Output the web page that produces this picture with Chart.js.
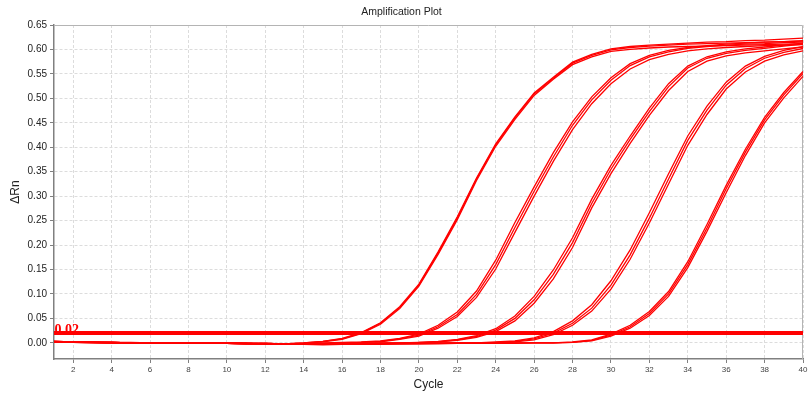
<!DOCTYPE html>
<html lang="en">
  <head>
    <meta charset="UTF-8" />
    <title>Amplification Plot</title>
    <script src="https://cdn.jsdelivr.net/npm/chart.js"></script>
    <style>
      body { margin: 0; background: #fff; }
      #plot { display: block; }
    </style>
  </head>
  <body>
    <canvas id="plot" width="812" height="397"></canvas>
    <script>
      // cycles and tick labels
      const cycles = [1, 2, 3, 4, 5, 6, 7, 8, 9, 10, 11, 12, 13, 14, 15, 16, 17, 18, 19, 20,
        21, 22, 23, 24, 25, 26, 27, 28, 29, 30, 31, 32, 33, 34, 35, 36, 37, 38, 39, 40];
      const xTicks = [2, 4, 6, 8, 10, 12, 14, 16, 18, 20, 22, 24, 26, 28, 30, 32, 34, 36, 38, 40];
      const yTicks = [0, 0.05, 0.1, 0.15, 0.2, 0.25, 0.3, 0.35, 0.4, 0.45, 0.5, 0.55, 0.6, 0.65];
      const threshold = 0.02;

      // delta Rn per well (3 replicates x 5 dilutions)
      const g1a = [0.003, 0.002, 0.002, 0.001, 0.000, 0.000, 0.000, 0.000, 0.000, -0.001, -0.001, -0.002, -0.002, 0.000, 0.003,
        0.009, 0.021, 0.041, 0.074, 0.120, 0.186, 0.258, 0.337, 0.407, 0.462, 0.511, 0.543, 0.574, 0.590, 0.601,
        0.606, 0.609, 0.611, 0.613, 0.615, 0.616, 0.618, 0.619, 0.621, 0.623];
      const g1b = [0.003, 0.002, 0.001, 0.001, 0.000, 0.000, 0.000, 0.000, 0.000, 0.000, -0.001, -0.001, -0.002, 0.000, 0.003,
        0.008, 0.020, 0.040, 0.072, 0.118, 0.184, 0.255, 0.335, 0.405, 0.460, 0.509, 0.541, 0.572, 0.588, 0.599,
        0.604, 0.607, 0.609, 0.611, 0.612, 0.613, 0.614, 0.615, 0.616, 0.617];
      const g1c = [0.002, 0.002, 0.001, 0.001, 0.000, 0.000, -0.001, -0.001, -0.001, -0.001, -0.002, -0.002, -0.002, -0.001, 0.002,
        0.007, 0.019, 0.038, 0.070, 0.116, 0.181, 0.252, 0.332, 0.402, 0.457, 0.506, 0.539, 0.569, 0.585, 0.596,
        0.600, 0.603, 0.605, 0.606, 0.607, 0.608, 0.609, 0.610, 0.611, 0.612];

      const g2a = [0.003, 0.002, 0.002, 0.001, 0.001, 0.000, 0.000, 0.000, 0.000, -0.001, -0.001, -0.001, -0.002, -0.001, 0.000, 0.001,
        0.002, 0.004, 0.009, 0.018, 0.036, 0.063, 0.106, 0.169, 0.246, 0.319, 0.389, 0.452, 0.503, 0.542,
        0.571, 0.588, 0.598, 0.604, 0.608, 0.611, 0.613, 0.615, 0.616, 0.618];
      const g2b = [0.002, 0.002, 0.001, 0.001, 0.000, 0.000, 0.000, 0.000, 0.000, 0.000, -0.001, -0.002, -0.002, -0.002, -0.001, 0.000,
        0.001, 0.003, 0.008, 0.016, 0.033, 0.058, 0.099, 0.160, 0.236, 0.310, 0.380, 0.445, 0.497, 0.537,
        0.567, 0.585, 0.595, 0.602, 0.606, 0.609, 0.611, 0.612, 0.614, 0.615];
      const g2c = [0.001, 0.001, 0.001, 0.000, 0.000, 0.000, -0.001, -0.001, -0.001, -0.001, -0.002, -0.002, -0.003, -0.002, -0.002, -0.001,
        0.001, 0.002, 0.007, 0.014, 0.030, 0.054, 0.093, 0.151, 0.226, 0.300, 0.371, 0.436, 0.489, 0.530,
        0.560, 0.579, 0.590, 0.597, 0.601, 0.604, 0.606, 0.608, 0.609, 0.610];

      const g3a = [0.003, 0.002, 0.001, 0.001, 0.000, 0.000, 0.000, 0.000, 0.000, 0.000, -0.001, -0.001, -0.002, -0.002, -0.002, -0.001, -0.001, 0.000, 0.000,
        0.001, 0.003, 0.007, 0.015, 0.029, 0.055, 0.095, 0.149, 0.215, 0.294, 0.363,
        0.423, 0.480, 0.530, 0.566, 0.585, 0.595, 0.601, 0.605, 0.609, 0.613];
      const g3b = [0.002, 0.001, 0.001, 0.000, 0.000, 0.000, 0.000, 0.000, 0.000, -0.001, -0.001, -0.002, -0.003, -0.003, -0.002, -0.002, -0.001, -0.001, 0.000,
        0.001, 0.002, 0.006, 0.013, 0.026, 0.050, 0.088, 0.140, 0.205, 0.285, 0.355,
        0.416, 0.473, 0.524, 0.562, 0.582, 0.592, 0.598, 0.602, 0.607, 0.611];
      const g3c = [0.002, 0.001, 0.001, 0.000, 0.000, -0.001, -0.001, -0.001, -0.001, -0.001, -0.002, -0.002, -0.003, -0.003, -0.003, -0.002, -0.002, -0.001, -0.001,
        0.000, 0.002, 0.005, 0.011, 0.023, 0.045, 0.081, 0.131, 0.195, 0.276, 0.346,
        0.408, 0.465, 0.516, 0.555, 0.576, 0.587, 0.593, 0.597, 0.601, 0.605];

      const g4a = [0.003, 0.002, 0.001, 0.001, 0.000, 0.000, 0.000, 0.000, 0.000, 0.000, -0.001, -0.001, -0.002, -0.002, -0.002, -0.002, -0.001, -0.001, -0.001, 0.000, 0.000, 0.000,
        0.000, 0.002, 0.004, 0.010, 0.023, 0.045, 0.078, 0.127, 0.190, 0.266,
        0.346, 0.423, 0.484, 0.533, 0.566, 0.586, 0.598, 0.606];
      const g4b = [0.002, 0.001, 0.001, 0.000, 0.000, 0.000, 0.000, 0.000, 0.000, -0.001, -0.001, -0.002, -0.003, -0.003, -0.003, -0.002, -0.002, -0.002, -0.001, -0.001, -0.001, 0.000,
        0.000, 0.001, 0.003, 0.008, 0.020, 0.040, 0.071, 0.118, 0.180, 0.255,
        0.335, 0.414, 0.476, 0.527, 0.561, 0.582, 0.594, 0.602];
      const g4c = [0.001, 0.001, 0.000, 0.000, 0.000, -0.001, -0.001, -0.001, -0.001, -0.001, -0.002, -0.002, -0.003, -0.003, -0.003, -0.003, -0.002, -0.002, -0.002, -0.002, -0.001, -0.001,
        -0.001, 0.000, 0.002, 0.006, 0.017, 0.036, 0.065, 0.110, 0.171, 0.245,
        0.325, 0.404, 0.467, 0.519, 0.554, 0.576, 0.589, 0.597];

      const g5a = [0.002, 0.002, 0.001, 0.001, 0.000, 0.000, 0.000, 0.000, 0.000, 0.000, -0.001, -0.001, -0.002, -0.002, -0.002, -0.002, -0.002, -0.001, -0.001, -0.001,
        -0.001, 0.000, 0.000, 0.000, 0.000, 0.000,
        0.000, 0.002, 0.006, 0.018, 0.036, 0.064, 0.105, 0.166, 0.242, 0.322, 0.396, 0.461, 0.512, 0.555];
      const g5b = [0.002, 0.001, 0.001, 0.000, 0.000, 0.000, 0.000, 0.000, 0.000, -0.001, -0.001, -0.002, -0.003, -0.003, -0.003, -0.003, -0.002, -0.002, -0.002, -0.001,
        -0.001, -0.001, -0.001, 0.000, 0.000, 0.000,
        0.000, 0.001, 0.005, 0.016, 0.033, 0.060, 0.100, 0.160, 0.235, 0.315, 0.390, 0.456, 0.507, 0.551];
      const g5c = [0.001, 0.001, 0.000, 0.000, 0.000, -0.001, -0.001, -0.001, -0.001, -0.001, -0.002, -0.002, -0.003, -0.003, -0.004, -0.003, -0.003, -0.003, -0.002, -0.002,
        -0.002, -0.001, -0.001, -0.001, -0.001, 0.000,
        0.000, 0.001, 0.004, 0.014, 0.030, 0.056, 0.095, 0.154, 0.228, 0.307, 0.383, 0.450, 0.501, 0.545];

      const wells = [g1a, g1b, g1c, g2a, g2b, g2c, g3a, g3b, g3c, g4a, g4b, g4c, g5a, g5b, g5c];

      Chart.defaults.font.family = "'Liberation Sans', Arial, sans-serif";
      Chart.defaults.color = "#333";

      const datasets = wells.map(function (w) {
        return {
          data: w.map(function (v, i) { return { x: cycles[i], y: v }; }),
          borderColor: "#ff0000",
          borderWidth: 1.3,
          pointRadius: 0,
          tension: 0,
          fill: false,
        };
      });
      datasets.push({
        data: [{ x: cycles[0], y: threshold }, { x: cycles[cycles.length - 1], y: threshold }],
        borderColor: "#ff0000",
        borderWidth: 4,
        pointRadius: 0,
        fill: false,
      });

      // light frame on top/right and the threshold value label
      const framePlugin = {
        id: "frame",
        beforeDatasetsDraw(chart) {
          const { ctx, chartArea: a } = chart;
          ctx.save();
          ctx.strokeStyle = "#b4b4b4";
          ctx.lineWidth = 1;
          ctx.beginPath();
          ctx.moveTo(a.left, a.top + 0.5);
          ctx.lineTo(a.right - 0.5, a.top + 0.5);
          ctx.lineTo(a.right - 0.5, a.bottom);
          ctx.stroke();
          ctx.restore();
        },
        afterDatasetsDraw(chart) {
          const { ctx, chartArea: a, scales } = chart;
          const y = scales.y.getPixelForValue(threshold);
          ctx.save();
          ctx.fillStyle = "#ff0000";
          ctx.font = "bold 14px 'Liberation Serif', serif";
          ctx.textAlign = "left";
          ctx.textBaseline = "alphabetic";
          ctx.fillText(threshold.toFixed(2), a.left + 0.5, y + 0.5);
          ctx.restore();
        },
      };

      new Chart(document.getElementById("plot").getContext("2d"), {
        type: "line",
        data: { datasets: datasets },
        plugins: [framePlugin],
        options: {
          responsive: false,
          animation: false,
          layout: { padding: { top: 0, right: 9, bottom: 0, left: 0 } },
          plugins: {
            legend: { display: false },
            tooltip: { enabled: false },
            title: {
              display: true,
              text: "Amplification Plot",
              color: "#222",
              font: { size: 10.5, weight: "normal" },
              padding: { top: 6, bottom: 6.4 },
            },
          },
          scales: {
            x: {
              type: "linear",
              min: 1,
              max: 40,
              afterBuildTicks: function (s) { s.ticks = xTicks.map(function (v) { return { value: v }; }); },
              afterFit: function (s) { s.height = 38; },
              ticks: { font: { size: 8 }, color: "#444", padding: 2, maxRotation: 0, autoSkip: false },
              grid: { color: "#dcdcdc", tickColor: "#808080", tickLength: 4 },
              border: { color: "#808080", width: 1.5, dash: [3, 2] },
              title: { display: true, text: "Cycle", color: "#222", font: { size: 12 }, padding: { top: 0, bottom: 5 } },
            },
            y: {
              min: -0.033,
              max: 0.65,
              afterBuildTicks: function (s) { s.ticks = yTicks.map(function (v) { return { value: v }; }); },
              afterFit: function (s) { s.width = 54; },
              ticks: {
                font: { size: 10 },
                color: "#222",
                padding: 3,
                callback: function (v) { return Number(v).toFixed(2); },
              },
              grid: { color: "#dcdcdc", tickColor: "#808080", tickLength: 4 },
              border: { color: "#808080", width: 1.5, dash: [3, 2] },
              title: { display: true, text: "ΔRn", color: "#222", font: { size: 12 }, padding: { top: 8, bottom: 0 } },
            },
          },
        },
      });
    </script>
  </body>
</html>
